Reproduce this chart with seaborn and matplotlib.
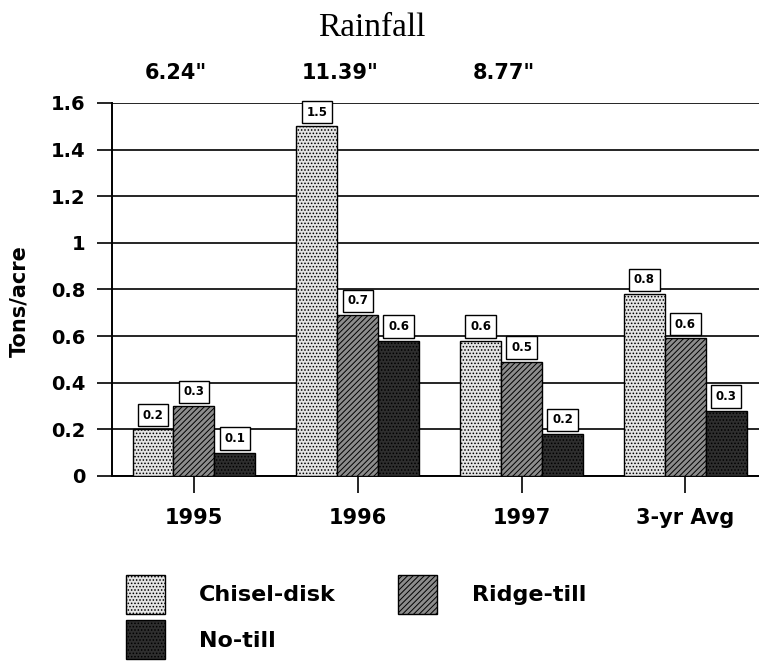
import pandas as pd
import matplotlib
matplotlib.use('Agg')
import matplotlib.pyplot as plt
import seaborn as sns
import numpy as np

# data (tons/acre)
years = ['1995', '1996', '1997', '3-yr Avg']
tillage = ['Chisel-disk', 'Ridge-till', 'No-till']
chisel = [0.20, 1.50, 0.58, 0.78]
ridge = [0.30, 0.69, 0.49, 0.59]
notill = [0.10, 0.58, 0.18, 0.28]
rainfall = ['6.24"', '11.39"', '8.77"']
yticks = [0, 0.2, 0.4, 0.6, 0.8, 1, 1.2, 1.4, 1.6]

sns.set_style('white')
plt.rcParams['font.family'] = ['DejaVu Sans']
plt.rcParams['font.weight'] = 'bold'
plt.rcParams['hatch.linewidth'] = 0.7
plt.rcParams['text.color'] = 'black'
plt.rcParams['xtick.color'] = 'black'
plt.rcParams['ytick.color'] = 'black'
plt.rcParams['axes.labelcolor'] = 'black'

df = pd.DataFrame({
    'Year': years * 3,
    'Tillage': [t for t in tillage for _ in years],
    'Loss': chisel + ridge + notill,
})

fig = plt.figure(figsize=(7.59, 6.61), dpi=100)
ax = fig.add_axes([0.1476, 0.280, 0.8524, 0.5643])

sns.barplot(data=df, x='Year', y='Loss', hue='Tillage', order=years,
            hue_order=tillage, width=0.75, errorbar=None, legend=False, ax=ax)

# grayscale fills like the printed original
styles = [('#e4e4e4', '.....'), ('#8c8c8c', '//////'), ('#2e2e2e', '.....')]
for cont, (fc, hatch) in zip(ax.containers, styles):
    for bar in cont:
        bar.set_facecolor(fc)
        bar.set_hatch(hatch)
        bar.set_edgecolor('black')
        bar.set_linewidth(1.0)
        bar.set_zorder(3)

# value boxes above each bar
for cont in ax.containers:
    for bar in cont:
        v = bar.get_height()
        ax.text(bar.get_x() + bar.get_width() / 2, v + 0.033, f'{v:.1f}',
                ha='center', va='bottom', fontsize=8.5, fontweight='bold',
                color='black', zorder=5, clip_on=False,
                bbox=dict(boxstyle='square,pad=0.4', fc='white', ec='black', lw=1))

ax.set_xlim(-0.5, 3.45)
ax.set_ylim(0, 1.6)
ax.set_yticks(yticks)
ax.set_yticklabels([f'{t:g}' for t in yticks])
ax.yaxis.grid(True, color='black', linewidth=1.2, zorder=0)
ax.set_axisbelow(True)
ax.tick_params(axis='y', direction='out', length=11, width=1.2, left=True,
               labelsize=14, pad=8)
ax.tick_params(axis='x', direction='out', length=12, width=1.2, bottom=True,
               labelsize=15, pad=11)
for s in ['top', 'right']:
    ax.spines[s].set_visible(False)
for s in ['left', 'bottom']:
    ax.spines[s].set_color('black')
    ax.spines[s].set_linewidth(1.4)
ax.set_xlabel('')
ax.set_ylabel('Tons/acre', fontsize=15, fontweight='bold')
ax.yaxis.set_label_coords(-0.127, 0.47)

# rainfall header
for i, r in enumerate(rainfall):
    ax.text(i - 0.11, 1.0 + 30 / 373, r, transform=ax.get_xaxis_transform(),
            ha='center', va='center', fontsize=15, fontweight='bold')
fig.text(372 / 759, 1 - 28 / 661, 'Rainfall', ha='center', va='center',
         fontsize=24, fontweight='normal', family=['Liberation Serif', 'DejaVu Serif'])

handles = [c.patches[0] for c in ax.containers]
order = [0, 2, 1]
fig.legend([handles[i] for i in order], [tillage[i] for i in order],
           loc='upper left', bbox_to_anchor=(126 / 759, 1 - 575 / 661),
           ncol=2, frameon=False, fontsize=16, handlelength=1.75,
           handleheight=2.3, handletextpad=1.55, columnspacing=2.8,
           labelspacing=0.3, borderpad=0, borderaxespad=0)

fig.savefig('out.png', dpi=100)
